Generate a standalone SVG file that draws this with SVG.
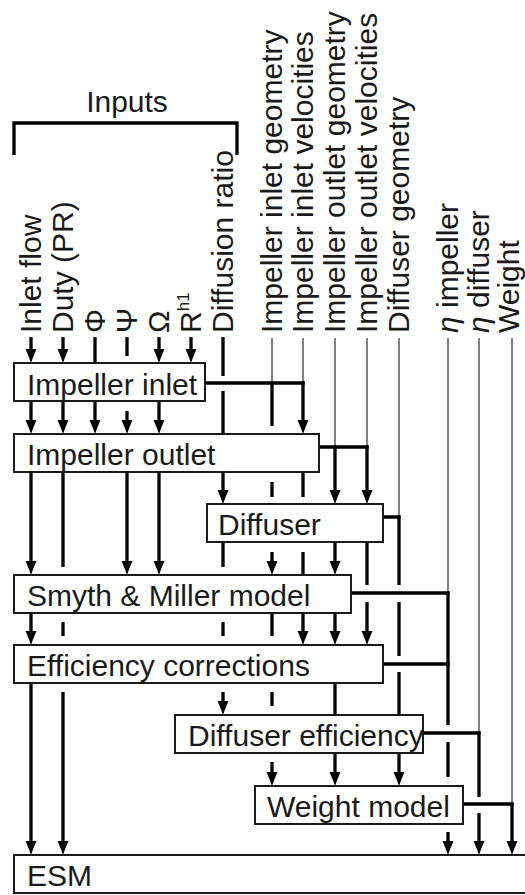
<svg xmlns="http://www.w3.org/2000/svg" width="525" height="895" viewBox="0 0 525 895">
<style>
.box{fill:#fff;stroke:#1a1a1a;stroke-width:2}
.t{font-family:"Liberation Sans",Arial,sans-serif;font-size:30px;fill:#1a1a1a}
.c{stroke:#000;stroke-width:3.3;fill:none}
.a{marker-end:url(#arr)}
.thin{stroke:#000;stroke-width:1;fill:none}
</style>
<defs>
<marker id="arr" markerUnits="userSpaceOnUse" markerWidth="16" markerHeight="14" viewBox="0 -7 16 14" refX="6" refY="0" orient="auto">
<path d="M0,-5.5 Q8,-2 14,0 Q8,2 0,5.5 Z" fill="#000"/>
</marker>
</defs>
<rect width="525" height="895" fill="#fff"/>
<g id="inputs-bracket">
<path class="c" d="M14 155V123H237V155"/>
<text class="t" x="127" y="112" text-anchor="middle" font-size="27">Inputs</text>
</g>
<g id="labels" class="t">
<text transform="translate(41,333) rotate(-90)">Inlet flow</text>
<text transform="translate(73,333) rotate(-90)">Duty (PR)</text>
<text transform="translate(105,333) rotate(-90)">Φ</text>
<text transform="translate(137,333) rotate(-90)">Ψ</text>
<text transform="translate(169,333) rotate(-90)">Ω</text>
<text transform="translate(201,333) rotate(-90)">R<tspan font-size="17" dy="-12">h1</tspan></text>
<text transform="translate(233,333) rotate(-90)">Diffusion ratio</text>
<text transform="translate(282,333) rotate(-90)">Impeller inlet geometry</text>
<text transform="translate(313,333) rotate(-90)">Impeller inlet velocities</text>
<text transform="translate(345,333) rotate(-90)">Impeller outlet geometry</text>
<text transform="translate(377,333) rotate(-90)">Impeller outlet velocities</text>
<text transform="translate(409,333) rotate(-90)">Diffuser geometry</text>
<text transform="translate(458,333) rotate(-90)"><tspan font-style="italic">η</tspan> impeller</text>
<text transform="translate(489,333) rotate(-90)"><tspan font-style="italic">η</tspan> diffuser</text>
<text transform="translate(519,333) rotate(-90)">Weight</text>
</g>
<g id="connectors">
<path class="thin" d="M272 338V383M303 338V383M335 338V447M367 338V447M399 338V517M448 338V593M479 338V733M512 338V804"/>
<path class="c" d="M205 383H304.6M319 447H368.6M383 517H400.6M351 593H449.6M383 664H449.6M423 733H480.6M463 804H513.6"/>
<!-- col 31 -->
<path class="c a" d="M31 337V355"/><path class="c a" d="M31 401V426"/><path class="c a" d="M31 472V567"/><path class="c a" d="M31 613V637"/><path class="c a" d="M31 683V847"/>
<!-- col 63 -->
<path class="c a" d="M63 337V355"/><path class="c a" d="M63 401V426"/><path class="c" d="M63 472V567M63 622V636"/><path class="c a" d="M63 692V847"/>
<!-- col 95 -->
<path class="c" d="M95 337V363"/><path class="c a" d="M95 401V426"/>
<!-- col 127 -->
<path class="c" d="M127 337V356"/><path class="c a" d="M127 411V426"/><path class="c a" d="M127 472V567"/>
<!-- col 159 -->
<path class="c a" d="M159 337V355"/><path class="c a" d="M159 401V426"/><path class="c a" d="M159 472V567"/>
<!-- col 191 -->
<path class="c a" d="M191 337V355"/>
<!-- col 223 -->
<path class="c" d="M223 337V376M223 391V434"/><path class="c a" d="M223 472V496"/><path class="c" d="M223 542V567M223 622V636"/><path class="c a" d="M223 692V707"/>
<!-- col 272 -->
<path class="c" d="M272 381.4V426M272 482V497"/><path class="c a" d="M272 552V567"/><path class="c" d="M272 613V636M272 692V706"/><path class="c a" d="M272 762V778"/>
<!-- col 303 -->
<path class="c a" d="M303 381.4V426"/><path class="c" d="M303 472V497M303 552V575"/><path class="c a" d="M303 613V637"/>
<!-- col 335 -->
<path class="c a" d="M335 445.4V496"/><path class="c a" d="M335 542V567"/><path class="c a" d="M335 613V637"/><path class="c" d="M335 683V715"/><path class="c a" d="M335 753V778"/>
<!-- col 367 -->
<path class="c a" d="M367 445.4V496"/><path class="c" d="M367 542V585"/><path class="c a" d="M367 602V637"/>
<!-- col 399 -->
<path class="c" d="M399 515.4V585M399 602V656M399 672V715"/><path class="c a" d="M399 753V778"/>
<!-- col 448 -->
<path class="c" d="M448 591.4V725M448 742V777"/><path class="c a" d="M448 832V847"/>
<!-- col 479 -->
<path class="c" d="M479 731.4V797"/><path class="c a" d="M479 813V847"/>
<!-- col 512 -->
<path class="c a" d="M512 802.4V847"/>
</g>
<g id="impeller-inlet"><rect class="box" x="14" y="363" width="191" height="38"/><text class="t" x="27" y="395">Impeller inlet</text></g>
<g id="impeller-outlet"><rect class="box" x="14" y="434" width="305" height="38"/><text class="t" x="27" y="465">Impeller outlet</text></g>
<g id="diffuser"><rect class="box" x="207" y="504" width="176" height="38"/><text class="t" x="218" y="535">Diffuser</text></g>
<g id="smyth-miller"><rect class="box" x="14" y="575" width="337" height="38"/><text class="t" x="27" y="606">Smyth &amp; Miller model</text></g>
<g id="efficiency-corrections"><rect class="box" x="14" y="645" width="369" height="38"/><text class="t" x="27" y="676">Efficiency corrections</text></g>
<g id="diffuser-efficiency"><rect class="box" x="175" y="715" width="248" height="38"/><text class="t" x="188" y="746">Diffuser efficiency</text></g>
<g id="weight-model"><rect class="box" x="255" y="786" width="208" height="38"/><text class="t" x="267" y="817">Weight model</text></g>
<g id="esm"><rect class="box" x="14" y="855" width="530" height="38"/><text class="t" x="27" y="886">ESM</text></g>
</svg>
